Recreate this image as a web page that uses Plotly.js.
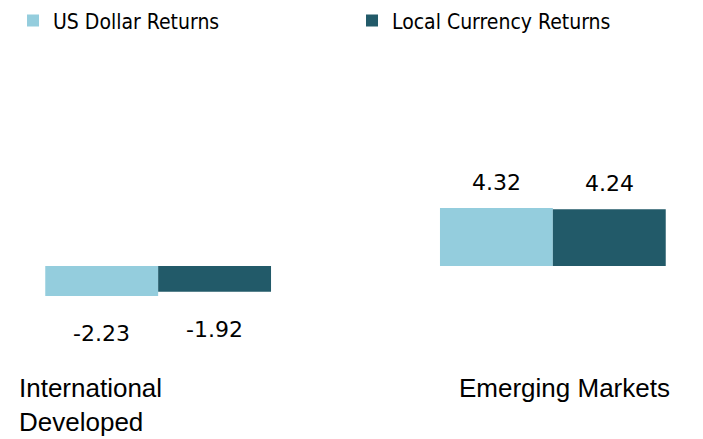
<!DOCTYPE html>
<html>
<head>
<meta charset="utf-8">
<script src="https://cdn.plot.ly/plotly-3.0.1.min.js"></script>
<style>html,body{margin:0;padding:0;background:#fff;}</style>
</head>
<body>
<div id="chart" style="width:703px;height:439px;"></div>
<script>
const categories = ["International<br>Developed", "Emerging Markets"];
const seriesNames = ["US Dollar Returns", "Local Currency Returns"];
const usdReturns = [-2.23, 4.32];
const localReturns = [-1.92, 4.24];
const valueLabels = [["-2.23", "4.32"], ["-1.92", "4.24"]];

const colors = ["#94CDDD", "#225A69"];
const bargap = 0.428;
const barW = (1 - bargap) / 2;

const idx = categories.map((c, i) => i);
const series = [usdReturns, localReturns];
const legendIds = ["legend", "legend2"];

const traces = series.map((vals, s) => ({
  type: "bar",
  name: seriesNames[s],
  x: idx,
  y: vals,
  legend: legendIds[s],
  marker: {color: colors[s], line: {width: 0}},
  hoverinfo: "skip"
}));

const annotations = [];
series.forEach((vals, s) => {
  vals.forEach((v, i) => {
    annotations.push({
      xref: "x", yref: "y",
      x: i + (s === 0 ? -barW / 2 : barW / 2),
      y: v,
      text: valueLabels[s][i],
      showarrow: false,
      xanchor: "center", yanchor: "middle",
      yshift: v >= 0 ? 26 : -38,
      font: {family: "DejaVu Sans", size: 22, color: "#000"}
    });
  });
});
const catShift = [-141, -96];
categories.forEach((c, i) => {
  annotations.push({
    xref: "x", yref: "paper",
    x: i, y: -0.003,
    text: c, showarrow: false,
    xanchor: "left", yanchor: "top", align: "left",
    xshift: catShift[i],
    font: {family: "Liberation Sans, Arial", size: 26, color: "#000"}
  });
});

const legendFont = {family: "DejaVu Sans Condensed", size: 21, color: "#000"};
const layout = {
  width: 703, height: 439,
  margin: {l: 20, r: 12, t: 60, b: 69, autoexpand: false},
  paper_bgcolor: "#fff", plot_bgcolor: "#fff",
  barmode: "group", bargap: bargap, bargroupgap: 0,
  showlegend: true,
  legend: {
    orientation: "h", x: -0.0104, xanchor: "left", y: 1.126, yanchor: "middle",
    font: legendFont, bgcolor: "rgba(0,0,0,0)"
  },
  legend2: {
    orientation: "h", x: 0.4948, xanchor: "left", y: 1.126, yanchor: "middle",
    font: legendFont, bgcolor: "rgba(0,0,0,0)"
  },
  xaxis: {range: [-0.35, 1.35], visible: false, showgrid: false, zeroline: false, fixedrange: true},
  yaxis: {range: [-7.76, 15.37], visible: false, showgrid: false, zeroline: false, fixedrange: true},
  annotations: annotations
};

Plotly.newPlot("chart", traces, layout, {displayModeBar: false, staticPlot: true});
</script>
</body>
</html>
